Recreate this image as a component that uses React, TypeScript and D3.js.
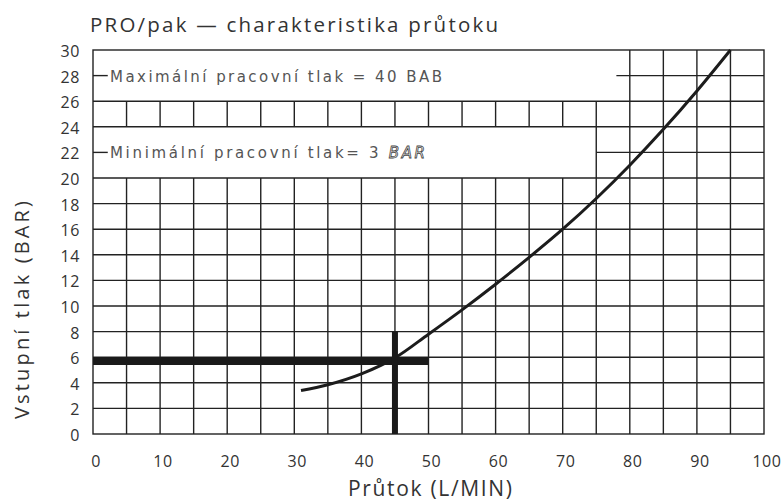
import React from 'react';
import * as d3 from 'd3';

const W = 782;
const H = 502;

// flow (L/min) vs inlet pressure (bar)
const flow = [31, 35, 40, 45, 50, 55, 60, 65, 70, 75, 80, 85, 90, 95];
const pressure = [3.4, 3.85, 4.7, 5.95, 7.8, 9.7, 11.7, 13.8, 16.0, 18.4, 21.0, 23.8, 26.8, 30];

const xTicks = [0, 10, 20, 30, 40, 50, 60, 70, 80, 90, 100];
const yTicks = [0, 2, 4, 6, 8, 10, 12, 14, 16, 18, 20, 22, 24, 26, 28, 30];

// blank boxes holding the notes (grid is not drawn inside)
const boxes = [
  { x0: 0, x1: 80, y0: 26, y1: 30, note: 'Maximální pracovní tlak = 40 BAB', unit: '', len: 332 },
  { x0: 0, x1: 75, y0: 20, y1: 24, note: 'Minimální pracovní tlak= 3  ', unit: 'BAR', len: 315 },
];
// horizontal line inside a box starts at this flow value
const boxLineFrom = [78, 75];
const stubTo = 2.2;

// operating point marker
const opFlow = 45;
const opPressure = 5.7;
const opFlowLineEnd = 50;
const opPressureLineTop = 8;

export default function App() {
  const margin = { top: 50, right: 18, bottom: 68, left: 93 };
  const x = d3.scaleLinear().domain([0, 100]).range([margin.left, W - margin.right]);
  const y = d3.scaleLinear().domain([0, 30]).range([H - margin.bottom, margin.top]);

  const ink = '#222';
  const text = '#333';

  // vertical grid segments, split around the boxes
  const vSegs: { v: number; a: number; b: number }[] = [];
  for (let v = 5; v < 100; v += 5) {
    const cuts = boxes.filter(bx => v < bx.x1).map(bx => [bx.y0, bx.y1]);
    cuts.sort((p, q) => p[0] - q[0]);
    let start = 0;
    cuts.forEach(([c0, c1]) => {
      vSegs.push({ v, a: start, b: c0 });
      start = c1;
    });
    if (start < 30) vSegs.push({ v, a: start, b: 30 });
  }

  // horizontal grid segments
  const hSegs: { v: number; a: number; b: number }[] = [];
  for (let v = 2; v < 30; v += 2) {
    const i = boxes.findIndex(bx => v > bx.y0 && v < bx.y1);
    if (i >= 0) {
      hSegs.push({ v, a: 0, b: stubTo });
      hSegs.push({ v, a: boxLineFrom[i], b: 100 });
    } else {
      hSegs.push({ v, a: 0, b: 100 });
    }
  }

  const line = d3
    .line<number>()
    .x((_, i) => x(flow[i]))
    .y(d => y(d))
    .curve(d3.curveCatmullRom);

  const font = "'Open Sans', 'DejaVu Sans', sans-serif";

  return (
    <svg
      width={W}
      height={H}
      viewBox={`0 0 ${W} ${H}`}
      style={{ position: 'absolute', left: 0, top: 0, background: '#fff' }}
    >
      <rect width={W} height={H} fill="#fff" />
      <text x={90} y={32} fontFamily={font} fontSize={20.5} fill={text} textLength={408} lengthAdjust="spacing">
        PRO/pak — charakteristika průtoku
      </text>

      <g stroke={ink} strokeWidth={1.4}>
        {vSegs.map((s, i) => (
          <line key={'v' + i} x1={x(s.v)} x2={x(s.v)} y1={y(s.a)} y2={y(s.b)} />
        ))}
        {hSegs.map((s, i) => (
          <line key={'h' + i} x1={x(s.a)} x2={x(s.b)} y1={y(s.v)} y2={y(s.v)} />
        ))}
        <rect x={x(0)} y={y(30)} width={x(100) - x(0)} height={y(0) - y(30)} fill="none" />
      </g>

      {boxes.map((bx, i) => (
        <text
          key={'n' + i}
          x={x(0) + 17}
          y={y((bx.y0 + bx.y1) / 2) + 6}
          fontFamily="'DejaVu Sans', sans-serif"
          fontSize={15}
          textLength={bx.len}
          lengthAdjust="spacing"
          fill="#555"
        >
          {bx.note}
          {bx.unit && (
            <tspan fontStyle="italic" fill="none" stroke="#444" strokeWidth={0.8}>
              {bx.unit}
            </tspan>
          )}
        </text>
      ))}

      <path d={line(pressure) || ''} fill="none" stroke="#1c1c1c" strokeWidth={3} />

      <line x1={x(0)} x2={x(opFlowLineEnd)} y1={y(opPressure)} y2={y(opPressure)} stroke="#1a1a1a" strokeWidth={8} />
      <line x1={x(opFlow)} x2={x(opFlow)} y1={y(opPressureLineTop)} y2={y(0)} stroke="#1a1a1a" strokeWidth={6} />

      <g fontFamily={font} fontSize={16} fill={text} letterSpacing={0.6}>
        {yTicks.map(t => (
          <text key={'y' + t} x={x(0) - 13} y={y(t) + 7} textAnchor="end">
            {t}
          </text>
        ))}
        {xTicks.map(t => (
          <text key={'x' + t} x={x(t) + 3} y={y(0) + 33} textAnchor="middle">
            {t}
          </text>
        ))}
      </g>

      <text
        transform={`translate(29,310) rotate(-90)`}
        textAnchor="middle"
        fontFamily={font}
        fontSize={20}
        fill={text}
        textLength={218}
        lengthAdjust="spacing"
      >
        Vstupní tlak (BAR)
      </text>
      <text
        x={348}
        y={496}
        fontFamily={font}
        fontSize={21}
        fill={text}
        textLength={164}
        lengthAdjust="spacing"
      >
        Průtok (L/MIN)
      </text>
    </svg>
  );
}
